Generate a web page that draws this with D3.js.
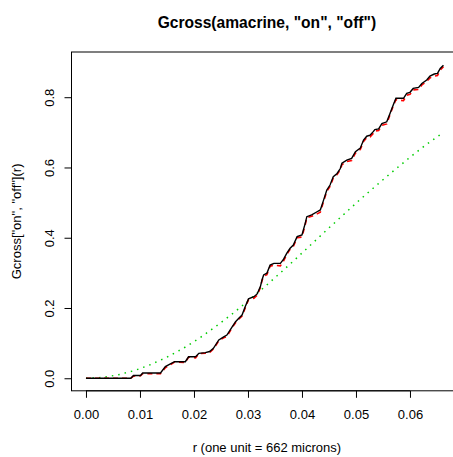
<!DOCTYPE html>
<html>
<head>
<meta charset="utf-8">
<script src="https://cdn.jsdelivr.net/npm/d3@7"></script>
<style>
    body { margin: 0; background: #fff; }
    svg { display: block; }
    text { font-family: "Liberation Sans", Arial, sans-serif; }
</style>
</head>
<body>
<div id="chart_div"></div>
<script>

// km estimate (black)
var rKm = [0, 0.0083, 0.0088, 0.0101, 0.0105, 0.0138, 0.0147, 0.0164, 0.0184, 0.0190,
    0.0203, 0.0209, 0.0221, 0.0229, 0.0236, 0.0246, 0.0255, 0.0261, 0.0271, 0.0277,
    0.0283, 0.0289, 0.0295, 0.0301, 0.0311, 0.0317, 0.0323, 0.0326, 0.0329, 0.0335,
    0.0341, 0.0348, 0.0360, 0.0366, 0.0372, 0.0378, 0.0384, 0.0391, 0.0400, 0.0406,
    0.0409, 0.0418, 0.0428, 0.0434, 0.0440, 0.0446, 0.0452, 0.0458, 0.0465, 0.0471,
    0.0474, 0.0483, 0.0492, 0.0499, 0.0508, 0.0514, 0.0520, 0.0526, 0.0532, 0.0535,
    0.0542, 0.0548, 0.0557, 0.0563, 0.0569, 0.0574, 0.0588, 0.0594, 0.0600, 0.0606,
    0.0616, 0.0622, 0.0631, 0.0637, 0.0645, 0.0651, 0.0656, 0.0662];
var gKm = [0, 0, 0.008, 0.008, 0.015, 0.015, 0.033, 0.047, 0.047, 0.061,
    0.061, 0.071, 0.073, 0.076, 0.085, 0.109, 0.118, 0.123, 0.147, 0.161,
    0.171, 0.180, 0.204, 0.226, 0.232, 0.240, 0.261, 0.280, 0.294, 0.299,
    0.322, 0.327, 0.327, 0.339, 0.356, 0.370, 0.379, 0.403, 0.408, 0.441,
    0.460, 0.465, 0.474, 0.479, 0.507, 0.536, 0.550, 0.574, 0.583, 0.597,
    0.612, 0.621, 0.626, 0.645, 0.655, 0.678, 0.689, 0.692, 0.702, 0.708,
    0.710, 0.725, 0.730, 0.754, 0.778, 0.797, 0.797, 0.811, 0.814, 0.825,
    0.828, 0.839, 0.849, 0.860, 0.866, 0.868, 0.882, 0.891];

// rs estimate (red dashed)
var gRs = [0, 0, 0.006, 0.007, 0.013, 0.013, 0.030, 0.046, 0.045, 0.060,
    0.058, 0.070, 0.071, 0.073, 0.083, 0.107, 0.115, 0.119, 0.145, 0.158,
    0.168, 0.177, 0.200, 0.224, 0.228, 0.236, 0.258, 0.278, 0.290, 0.295,
    0.319, 0.322, 0.320, 0.334, 0.353, 0.367, 0.375, 0.400, 0.402, 0.437,
    0.457, 0.461, 0.468, 0.473, 0.503, 0.532, 0.546, 0.570, 0.580, 0.593,
    0.608, 0.617, 0.620, 0.641, 0.651, 0.674, 0.685, 0.687, 0.697, 0.704,
    0.705, 0.720, 0.724, 0.750, 0.775, 0.793, 0.790, 0.806, 0.808, 0.821,
    0.822, 0.835, 0.845, 0.855, 0.860, 0.862, 0.877, 0.887];

// theoretical (green dotted)
var rTheo = [0, 0.003, 0.006, 0.009, 0.012, 0.015, 0.018, 0.021, 0.024, 0.027, 0.030,
    0.033, 0.036, 0.039, 0.042, 0.045, 0.048, 0.051, 0.054, 0.057, 0.060, 0.063, 0.0662];
var gTheo = [0, 0.002, 0.010, 0.022, 0.039, 0.060, 0.085, 0.114, 0.147, 0.182, 0.220,
    0.259, 0.300, 0.342, 0.385, 0.428, 0.470, 0.512, 0.552, 0.591, 0.629, 0.665, 0.700];

var xTicks = [0, 0.01, 0.02, 0.03, 0.04, 0.05, 0.06];
var yTicks = [0, 0.2, 0.4, 0.6, 0.8];

var xMax = 0.067, yMax = 0.893;

var svg = d3.select("#chart_div").append("svg")
    .attr("width", 453)
    .attr("height", 457);

var boxLeft = 71.5, boxTop = 52, boxBottom = 390.8;
var boxRight = boxLeft + 1.08 * xMax * 5400;

var x = d3.scaleLinear()
    .domain([-0.04 * xMax, 1.04 * xMax])
    .range([boxLeft, boxRight]);
var y = d3.scaleLinear()
    .domain([-0.04 * yMax, 1.04 * yMax])
    .range([boxBottom, boxTop]);

function zip(rs, gs) {
    return rs.map(function (r, i) {
        return [r, gs[i]];
    });
}

var line = d3.line()
    .x(function (d) { return x(d[0]); })
    .y(function (d) { return y(d[1]); });

svg.append("path")
    .attr("d", line(zip(rTheo, gTheo)))
    .attr("fill", "none")
    .attr("stroke", "#00cd00")
    .attr("stroke-width", 1.5)
    .attr("stroke-dasharray", "1.5,5");

svg.append("path")
    .attr("d", line(zip(rKm, gRs)))
    .attr("fill", "none")
    .attr("stroke", "#ff0000")
    .attr("stroke-width", 1.6)
    .attr("stroke-dasharray", "5,4");

svg.append("path")
    .attr("d", line(zip(rKm, gKm)))
    .attr("fill", "none")
    .attr("stroke", "#000")
    .attr("stroke-width", 1.4);

// box
svg.append("rect")
    .attr("x", boxLeft)
    .attr("y", boxTop)
    .attr("width", boxRight - boxLeft)
    .attr("height", boxBottom - boxTop)
    .attr("fill", "none")
    .attr("stroke", "#000")
    .attr("stroke-width", 1);

var xAxis = svg.append("g")
    .attr("transform", "translate(0," + boxBottom + ")")
    .call(d3.axisBottom(x).tickValues(xTicks).tickSize(7).tickPadding(12)
        .tickFormat(d3.format(".2f")));
xAxis.select(".domain")
    .attr("d", "M" + x(0) + ",0H" + x(0.06));
xAxis.selectAll("text")
    .attr("font-size", 13)
    .attr("font-family", "Liberation Sans, Arial, sans-serif")
    .attr("fill", "#000");

var yAxis = svg.append("g")
    .attr("transform", "translate(" + boxLeft + ",0)")
    .call(d3.axisLeft(y).tickValues(yTicks).tickSize(7).tickFormat(d3.format(".1f")));
yAxis.select(".domain")
    .attr("d", "M0," + y(0) + "V" + y(0.8));
yAxis.selectAll("text")
    .attr("font-size", 13)
    .attr("font-family", "Liberation Sans, Arial, sans-serif")
    .attr("fill", "#000")
    .attr("text-anchor", "middle")
    .attr("dy", null)
    .attr("x", null)
    .attr("transform", "translate(-18,0) rotate(-90)");

svg.append("text")
    .attr("x", (boxLeft + boxRight) / 2)
    .attr("y", 28)
    .attr("text-anchor", "middle")
    .attr("font-size", 15.6)
    .attr("font-weight", "bold")
    .text("Gcross(amacrine, \"on\", \"off\")");

svg.append("text")
    .attr("x", (boxLeft + boxRight) / 2)
    .attr("y", 452)
    .attr("text-anchor", "middle")
    .attr("font-size", 13)
    .text("r (one unit = 662 microns)");

svg.append("text")
    .attr("transform", "translate(21," + (boxTop + boxBottom) / 2 + ") rotate(-90)")
    .attr("text-anchor", "middle")
    .attr("font-size", 13)
    .text("Gcross[\"on\", \"off\"](r)");

</script>
</body>
</html>
